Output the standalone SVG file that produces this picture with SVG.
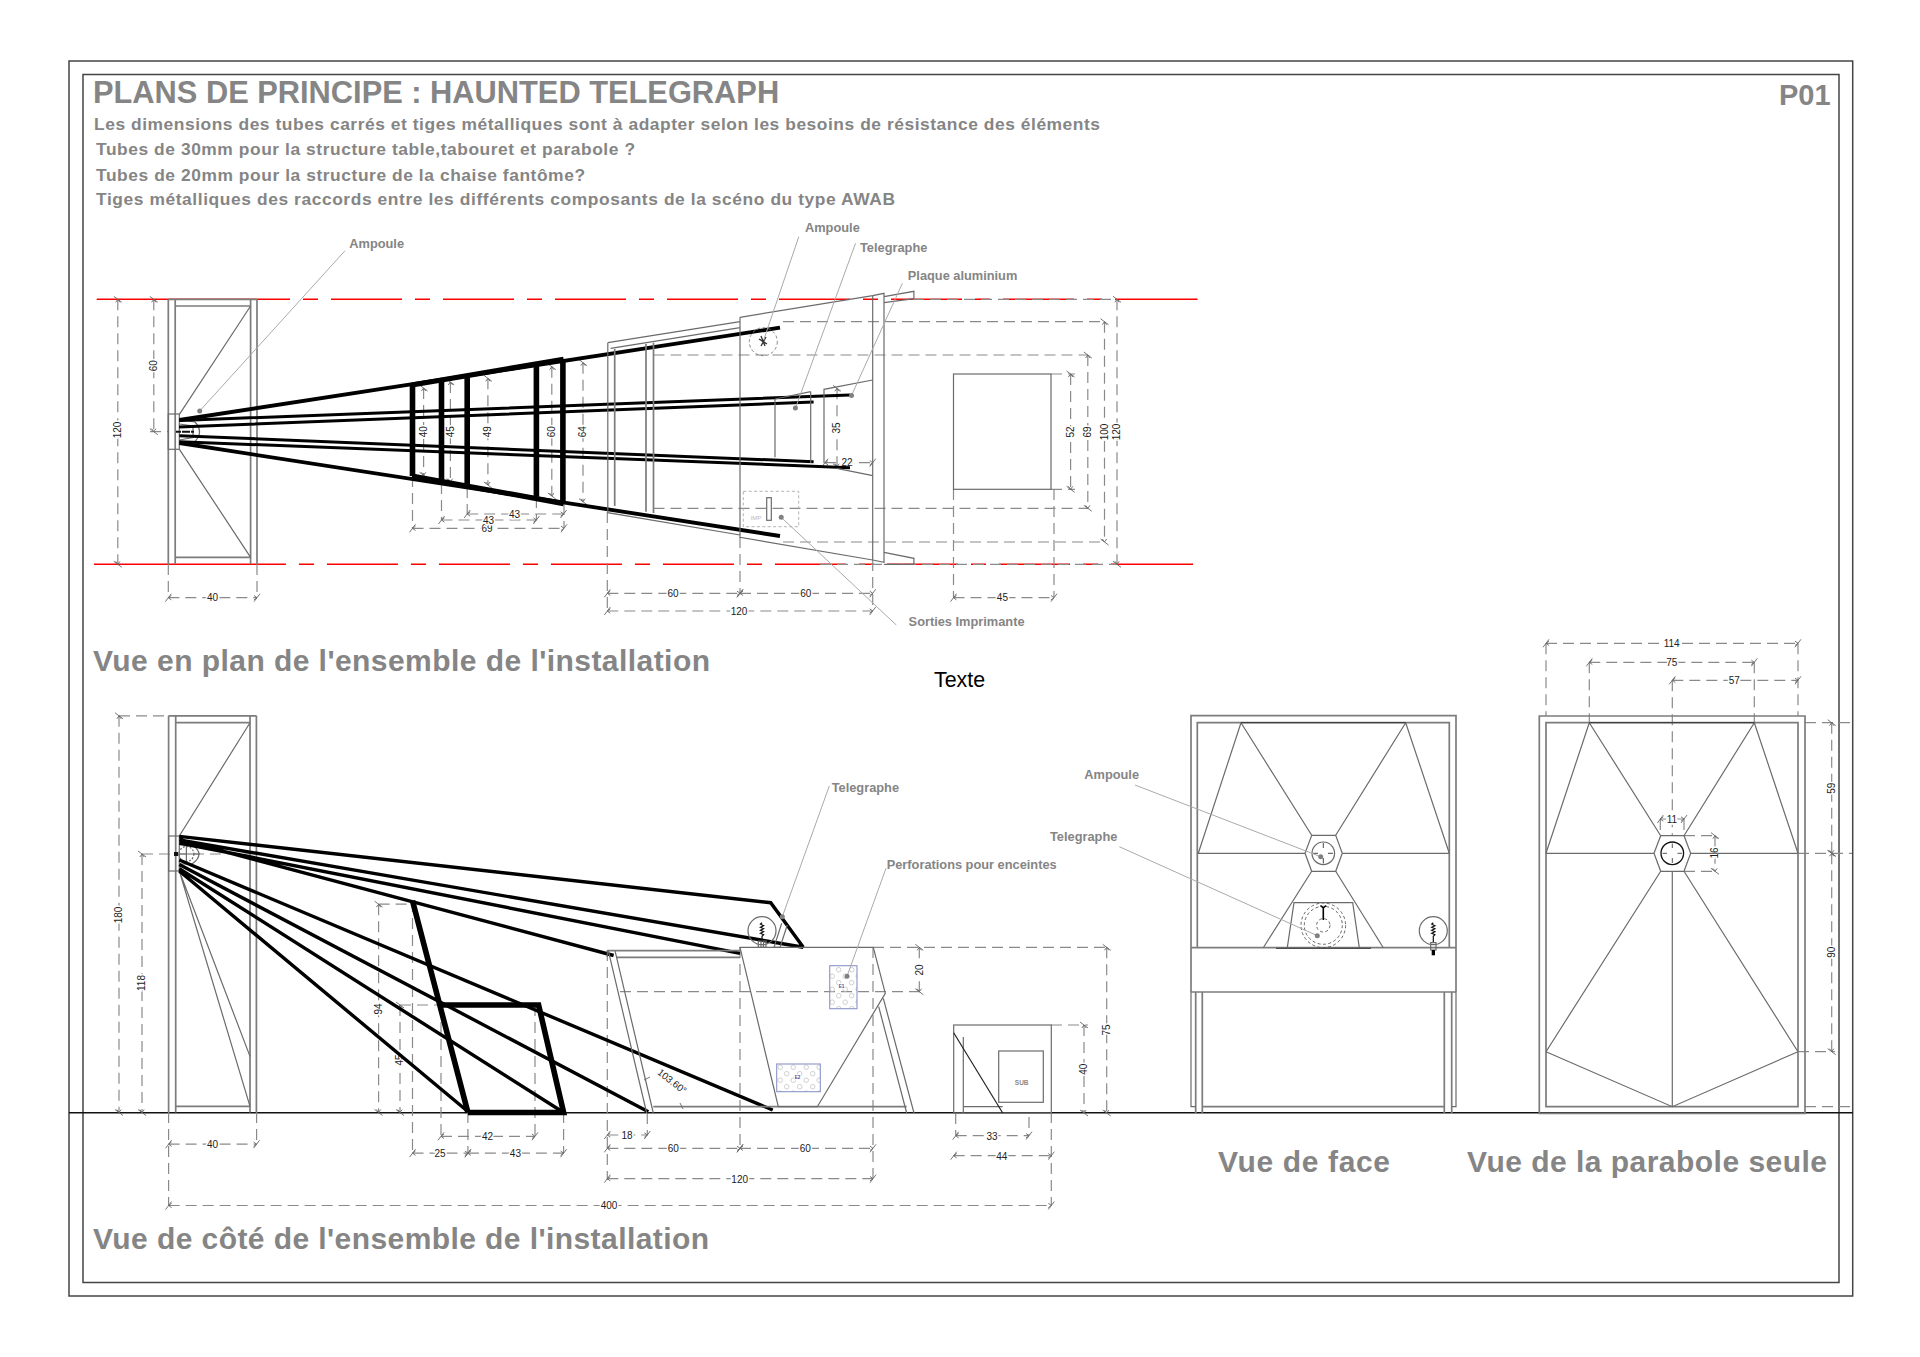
<svg xmlns="http://www.w3.org/2000/svg" width="1920" height="1357" viewBox="0 0 1920 1357">
<style>
text{font-family:"Liberation Sans",Arial,sans-serif}
.s,.s *{fill:none;stroke:#6b6b6b;stroke-width:1.2}
.s2{fill:none;stroke:#7c7c7c;stroke-width:1.7}
.k{fill:none;stroke:#000;stroke-width:3.4}
.k5{fill:none;stroke:#000;stroke-width:5.6}
.b{fill:none;stroke:#222;stroke-width:1.3}
.d{fill:none;stroke:#8a8a8a;stroke-width:1.2;stroke-dasharray:11 6}
.m{marker-start:url(#ts);marker-end:url(#te)}
.ld{fill:none;stroke:#aaa;stroke-width:1}
.dot{fill:#808080}
.h{font-weight:bold;fill:#858585}
.n{font-weight:bold;fill:#858585;font-size:12.8px}
.t{font-size:10px;fill:#222;text-anchor:middle;stroke:#fff;stroke-width:3;paint-order:stroke}
.r{fill:none;stroke:#f00;stroke-width:1.4}
.dz{fill:none;stroke:#555;stroke-width:.9;stroke-dasharray:3 2.4}
.p{fill:url(#perf);stroke:#8b96c8;stroke-width:1.1}
</style>
<defs>
<marker id="ts" markerUnits="userSpaceOnUse" markerWidth="14" markerHeight="14" viewBox="-7 -7 14 14" refX="0" refY="0" orient="auto"><path d="M-3 4L3-4M3-2.2L0 0L3 2.2" fill="none" stroke="#666" stroke-width=".9"/></marker>
<marker id="te" markerUnits="userSpaceOnUse" markerWidth="14" markerHeight="14" viewBox="-7 -7 14 14" refX="0" refY="0" orient="auto"><path d="M-3 4L3-4M-3-2.2L0 0L-3 2.2" fill="none" stroke="#666" stroke-width=".9"/></marker>
<pattern id="perf" patternUnits="userSpaceOnUse" width="13" height="13" x="777" y="1064"><circle cx="3.2" cy="3.2" r="2.3" fill="none" stroke="#c4c4c4" stroke-width=".8"/><circle cx="9.7" cy="9.7" r="2.3" fill="none" stroke="#c4c4c4" stroke-width=".8"/></pattern>
</defs>
<rect width="1920" height="1357" fill="#fff"/>

<g id="cadre" fill="none">
<rect x="69" y="61" width="1783.7" height="1235" stroke="#444" stroke-width="1.5"/>
<rect x="83" y="74.5" width="1756" height="1208" stroke="#444" stroke-width="1.5"/>
</g>

<g id="titres">
<text class="h" x="93" y="103" font-size="30.8">PLANS DE PRINCIPE : HAUNTED TELEGRAPH</text>
<text class="h" x="1779" y="105" font-size="29">P01</text>
<text class="h" x="94" y="130" font-size="17.4" textLength="1006">Les dimensions des tubes carrés et tiges métalliques sont à adapter selon les besoins de résistance des éléments</text>
<text class="h" x="96" y="155" font-size="17.4" textLength="539">Tubes de 30mm pour la structure table,tabouret et parabole ?</text>
<text class="h" x="96" y="180.500" font-size="17.4" textLength="489">Tubes de 20mm pour la structure de la chaise fantôme?</text>
<text class="h" x="96" y="205" font-size="17.4" textLength="799">Tiges métalliques des raccords entre les différents composants de la scéno du type AWAB</text>
<text class="h" x="93" y="671" font-size="30" textLength="617">Vue en plan de l'ensemble de l'installation</text>
<text x="934" y="687" font-size="21.400" fill="#000">Texte</text>
<text class="h" x="93" y="1249" font-size="30" textLength="616">Vue de côté de l'ensemble de l'installation</text>
<text class="h" x="1218" y="1172" font-size="30" textLength="172">Vue de face</text>
<text class="h" x="1467" y="1172" font-size="30" textLength="360">Vue de la parabole seule</text>
</g>

<g id="sol"><path d="M69 1112.7H1852.7" fill="none" stroke="#111" stroke-width="1.6"/></g>

<g id="axes-rouges">
<path class="r" d="M96.700 299.300H290M94 564.300H286M1117 299.300H1197.600M1117 564.300H1193"/>
<path class="r" stroke-dasharray="15 13 71 13" d="M303 299.300H1117"/>
<path class="r" stroke-dasharray="15 13 71 13" d="M299 564.300H1117"/>
</g>

<g id="cotes-plan">
<path class="d" d="M150 431.700H168M168.300 564V597M257 564V597M412.500 476V528M441.500 483V520M467.200 487V514M536.400 497V520M564 504V528M607.300 512V611M740 537V593M872.700 560V611M953.500 489V597M1054 489V597M1051 374H1075M1051 489.300H1075M653.500 355H1088M653.500 508.300H1088M783 321.700H1104.500M783 542H1104.500M913 299.300H1117M820 564.300H1117"/>
<path class="d m" d="M117.800 299.300V564.300"/><text class="t" transform="translate(121 430) rotate(-90)">120</text>
<path class="d m" d="M153.800 299.300V431.700"/><text class="t" transform="translate(157 365.700) rotate(-90)">60</text>
<path class="d m" d="M168.300 597.700H257"/><text class="t" x="212.500" y="601">40</text>
<path class="d m" d="M423.600 388V475.300"/><text class="t" transform="translate(427 431.700) rotate(-90)">40</text>
<path class="d m" d="M450.400 382V481.700"/><text class="t" transform="translate(453.800 431.700) rotate(-90)">45</text>
<path class="d m" d="M487.900 378.300V485"/><text class="t" transform="translate(491.300 431.700) rotate(-90)">49</text>
<path class="d m" d="M551.800 366.700V496"/><text class="t" transform="translate(555.200 431.700) rotate(-90)">60</text>
<path class="d m" d="M583 362.700V501.700"/><text class="t" transform="translate(586.400 431.700) rotate(-90)">64</text>
<path class="d m" d="M412.500 528.300H564"/><text class="t" x="487" y="532">69</text>
<path class="d m" d="M441.500 520H536.400"/><text class="t" x="488.600" y="524">43</text>
<path class="d m" d="M467.200 514H563.600"/><text class="t" x="514.600" y="518">43</text>
<path class="d m" d="M1070.600 374V489.300"/><text class="t" transform="translate(1074 432) rotate(-90)">52</text>
<path class="d m" d="M1087.800 355V508.300"/><text class="t" transform="translate(1091.200 432) rotate(-90)">69</text>
<path class="d m" d="M1104.500 321.700V542"/><text class="t" transform="translate(1108 432) rotate(-90)">100</text>
<path class="d m" d="M1117 299.300V564.300"/><text class="t" transform="translate(1120.400 432) rotate(-90)">120</text>
<path class="d m" d="M837 388.300V466.700"/><text class="t" transform="translate(840.400 428) rotate(-90)">35</text>
<path class="d m" d="M825 462.700H872.700"/><text class="t" x="847" y="466">22</text>
<path class="d m" d="M607.300 593.300H740"/><text class="t" x="673" y="597">60</text>
<path class="d m" d="M740 593.300H872.700"/><text class="t" x="805.700" y="597">60</text>
<path class="d m" d="M607.300 611H872.700"/><text class="t" x="739" y="615">120</text>
<path class="d m" d="M953.500 597.700H1054"/><text class="t" x="1002.400" y="601">45</text>
</g>

<g id="plan-parabole">
<g class="s">
<path class="s2" d="M168.300 299.300V564.300M175.200 299.300V564.300M250.600 299.300V564.300M257 299.300V564.300M175.200 306H250.600M175.200 557.300H250.600M168.300 299.300H257"/>
<path d="M250.600 306L179.400 414.300M250.600 557.300L179.400 449.300"/>
<rect x="168.300" y="414" width="11" height="35.300"/>
<path d="M179.300 420L195 422Q204 431.700 195 441.500L179.300 444M179.300 424L193 426V437.500L179.300 440"/>
</g>
<path d="M176 431.700H194" stroke="#111" stroke-width="2" stroke-dasharray="5 1 8 1" fill="none"/>
</g>

<g id="plan-chaise">
<path class="k" stroke-width="3.600" style="stroke-width:3.800" d="M179.400 420L780 327.700M179.400 443L780 536"/>
<path class="k" d="M412 385L563.600 359.300M412 476L563.600 503.600" style="stroke-width:5.200"/>
<path class="k" style="stroke-width:3" d="M179.300 420.500L850 395M179 427L813.600 402M179.300 435.700L813.600 461.700M179.300 441.700L850 467.700"/>
<path class="k" style="stroke-width:5.600" d="M412.500 385V476M441.500 381V483.300M467.200 377.700V486.700M536.400 365.700V496.700M562.900 359.300V504"/>
</g>

<g id="plan-table">
<g class="s">
<path d="M607.800 342.700L740 321.700M610.600 348.300L740 327.700M607.800 342.700V512.700L740 535M740 317.300L872.700 295.700L884 293.300V562.300L872.700 560L740 537.300V317.300"/>
<path class="s2" d="M614.700 349V506M646 344V511.700M653.500 342.700V513"/>
<path stroke="#222" d="M872.700 295.700V560"/>
<path d="M884 296.700L913.900 291.300V298.700L884 302.700M884 552.300L913.900 558.300V564.300H884"/>
<path stroke="#333" d="M775 399V457.300M810.700 391.700V463M775 399L810.700 391.700"/>
<path d="M824 463.300V389.300L872.700 380M836.700 468.300L872.700 475.700"/>
<rect x="953.500" y="374" width="97.500" height="115.300"/>
<rect x="766.700" y="497.700" width="4.600" height="22.600"/>
</g>
<path class="dz" d="M743.300 491.300H798.700V526.700H743.300Z" style="stroke:#aaa"/>
<circle class="dz" cx="763.300" cy="341.700" r="14" style="stroke:#777"/>
<path d="M761 336L765 346M759 339L767 344M766 337L761 346" stroke="#333" stroke-width="1.300" fill="none"/>
<text x="750.700" y="519.500" font-size="6" fill="#bbb">IMP</text>
</g>

<g id="cotes-cote">
<path class="d" d="M119 715.800H168M142 854H250M378.600 904.200H412M400 1005H441M168.600 1112V1205.500M256.600 1112V1144M412.500 901V1153M441 1005V1136M535 1005V1136M467.900 1112V1153M563.600 1112V1153M1051.300 1112V1205.500M607.300 950V1180M740 947V1148M873 947V1178M647.300 1113V1135M873 947.300H1106.700M620 991.700H923M1051 1025H1088M955.700 1113V1135M1029 1117V1135"/>
<path class="d m" d="M119 715.800V1112.500"/><text class="t" transform="translate(122.400 915) rotate(-90)">180</text>
<path class="d m" d="M142 854V1112.500"/><text class="t" transform="translate(145.400 983) rotate(-90)">118</text>
<path class="d m" d="M168.600 1144.200H256.600"/><text class="t" x="212.500" y="1148">40</text>
<path class="d m" d="M378.600 904.200V1112.500"/><text class="t" transform="translate(382 1009) rotate(-90)">94</text>
<path class="d m" d="M400 1005V1112.500"/><text class="t" transform="translate(403.400 1060) rotate(-90)">45</text>
<path class="d m" d="M441 1136.300H535"/><text class="t" x="487.500" y="1140">42</text>
<path class="d m" d="M412.500 1153.200H467.900"/><text class="t" x="440" y="1157">25</text>
<path class="d m" d="M467.900 1153.200H563.600"/><text class="t" x="515.400" y="1157">43</text>
<path class="d m" d="M168.600 1205.500H1051.300"/><text class="t" x="609" y="1209">400</text>
<path class="d m" d="M919.300 947.300V991.700"/><text class="t" transform="translate(922.700 970) rotate(-90)">20</text>
<path class="d m" d="M1106.700 947.300V1113"/><text class="t" transform="translate(1110 1030) rotate(-90)">75</text>
<path class="d m" d="M1084 1025V1113"/><text class="t" transform="translate(1087.400 1069.300) rotate(-90)">40</text>
<path class="d m" d="M955.700 1135.700H1029"/><text class="t" x="992" y="1139.500">33</text>
<path class="d m" d="M953.700 1155.700H1051.300"/><text class="t" x="1001.700" y="1159.500">44</text>
<path class="d m" d="M607.300 1135H647.300"/><text class="t" x="627" y="1138.800">18</text>
<path class="d m" d="M607.300 1148.300H740"/><text class="t" x="673.300" y="1152">60</text>
<path class="d m" d="M740 1148.300H873"/><text class="t" x="805.300" y="1152">60</text>
<path class="d m" d="M607.300 1178.700H873"/><text class="t" x="739.700" y="1182.500">120</text>
</g>

<g id="cote-parabole">
<g class="s">
<path class="s2" d="M168.600 715.800H256.400M168.600 715.800V1112.500M175.700 715.800V1112.500M250 715.800V1112.500M256.400 715.800V1112.500M175.700 722.700H250M175.700 1106.300H250"/>
<path d="M250 722.700L179.300 836M179.300 871L250 1106.300M179.300 871L250 1056.400"/>
<rect x="168.600" y="836" width="10.700" height="35"/>
<path d="M179.300 845H192Q206 854 192 864H179.300"/>
<circle cx="186.400" cy="854" r="7.500" stroke-dasharray="2 1.500"/>
<path stroke="#222" d="M176 854H200M186.400 846V862"/>
</g>
<rect x="174" y="852" width="4" height="4" fill="#111"/>
</g>

<g id="cote-chaise">
<path class="k" d="M179.300 836.400L770.700 902.700L803.300 947.300M179.300 840L803.300 947.300M179.300 843L740 953.300M179.300 839.500L613.600 955.500M179.300 860L772.700 1110M179.300 864.600L648.300 1111.700M179.300 868.700L563.600 1112.500M179.300 871L467.900 1111.500"/>
<path class="k5" d="M412.500 900.800L467.900 1112.500M441 1005H538.600L563.600 1112.500H467.900"/>
</g>

<g id="cote-table">
<g class="s">
<path class="s2" d="M607.300 950.700H740M616 957.300H740M653.300 1106.700H906.700"/>
<path d="M607.300 950.700V957M608.300 950.700L646.700 1113M615 950.700L653.300 1113"/>
<path d="M740 947.300H873.300L885.300 993.300L817.300 1106.700H778.300Z"/>
<path d="M878.700 1006.700L906.700 1113M883.300 998.300L914 1113"/>
<circle cx="762" cy="930.700" r="14" stroke="#222"/>
<path d="M781.700 923.300L774 947.300H780L787.300 925"/>
<path stroke="#444" d="M758.300 941H766V947.300H758.300ZM761 941V947.300M763.500 941V947.300"/>
</g>
<path d="M762 922.700l-1.600 1.500 3.200 1.500-3.200 1.500 3.200 1.500-3.200 1.500 3.200 1.500-3.200 1.500 3.200 1.500-1.600 1.500V941" fill="none" stroke="#111" stroke-width="1.200"/>
<rect class="p" x="829.700" y="965.700" width="27.300" height="43"/>
<rect class="p" x="776.700" y="1064" width="43.600" height="27.700"/>
<text x="841.500" y="987.500" font-size="4.500" fill="#3a4a9a" font-weight="bold" text-anchor="middle" stroke="#fff" stroke-width="1.500" paint-order="stroke">E1</text>
<text x="797.500" y="1079" font-size="4.500" fill="#3a4a9a" font-weight="bold" text-anchor="middle" stroke="#fff" stroke-width="1.500" paint-order="stroke">E2</text>
<path d="M644 1080l6-3M680 1103l3 6" fill="none" stroke="#666" stroke-width=".9"/>
<text x="0" y="0" font-size="9.800" fill="#222" text-anchor="middle" transform="translate(670 1084) rotate(38)">103.60°</text>
</g>

<g id="cote-caisson">
<g class="s">
<rect x="953.700" y="1025" width="97.600" height="88"/>
<path d="M963.300 1037V1113M963.300 1106.700H1002.700"/>
<rect x="998.700" y="1051" width="44.600" height="51.300"/>
</g>
<path d="M953.700 1032.700L1002.700 1113" stroke="#222" stroke-width="1.200" fill="none"/>
<text x="1021.700" y="1084.500" font-size="6.500" fill="#888" text-anchor="middle" font-weight="bold">SUB</text>
</g>

<g id="vue-face">
<g class="s">
<path class="s2" d="M1191 947.700V715.700H1456V947.700M1197.300 947.700V722.700H1449.300V947.700M1191 947.700H1456M1191 992H1456M1191 947.700V992M1456 947.700V992"/>
<path class="s2" d="M1195.700 992V1113M1202.300 992V1113M1444.300 992V1113M1451.700 992V1113M1202.300 1106.700H1444.300"/>
<path d="M1191 992V1106.700H1195.700M1456 992V1106.700H1451.700"/>
<path d="M1241 722.700L1311.700 835.300M1405.700 722.700L1335.700 835.300M1241 722.700L1198.300 853.300M1405.700 722.700L1449.300 853.300M1197.300 853.300H1305M1342.300 853.300H1449.300M1311.700 871.300L1263.300 947.700M1335.700 871.300L1383.300 947.700"/>
<path d="M1311.700 835.300H1335.700L1342.300 853.300L1335.700 871.300H1311.700L1305 853.300Z"/>
<path d="M1287.300 947.700L1294 902.700H1352.700L1359.300 947.700"/>
<circle cx="1323.300" cy="853.300" r="11.300" stroke="#333"/>
<circle cx="1433.300" cy="930.700" r="14" stroke="#333"/>
<path stroke="#333" d="M1430.700 942.700H1436V950H1430.700Z"/>
</g>
<path d="M1241 722.700H1405.700M1276 948.300H1371" fill="none" stroke="#333" stroke-width="1"/>
<path d="M1323.300 843V848M1323.300 858V863.500M1313 853.300H1318M1328 853.300H1333" fill="none" stroke="#333" stroke-width=".9"/>
<circle class="dz" cx="1323.300" cy="925.300" r="22.300"/>
<circle class="dz" cx="1323.300" cy="925.300" r="19"/>
<circle class="dz" cx="1323.300" cy="925.300" r="6.700"/>
<path d="M1323.300 920V908M1320.500 905.500L1323.300 908L1326 905.500" fill="none" stroke="#000" stroke-width="1.600"/>
<path d="M1433.300 922.700l-1.600 1.500 3.200 1.500-3.200 1.500 3.200 1.500-3.200 1.500 3.200 1.500-3.200 1.500 3.200 1.500-1.600 1.500V942" fill="none" stroke="#111" stroke-width="1.200"/>
<rect x="1431.700" y="950" width="3.300" height="5.300" fill="#000"/>
</g>

<g id="cotes-parabole-seule">
<path class="d" d="M1546 643.300V716M1798 643.300V716M1589.300 662.300V722M1754.300 662.300V722M1672.300 680.300V835M1660.300 819V836M1684 819V836M1684 835.700H1718M1684 871.300H1718M1805 722.700H1852M1798 853.300H1852M1798 1051.700H1835M1805 1106.700H1852"/>
<path class="d m" d="M1546 643.300H1798"/><text class="t" x="1671.700" y="647">114</text>
<path class="d m" d="M1589.300 662.300H1754.300"/><text class="t" x="1671.700" y="666">75</text>
<path class="d m" d="M1672.300 680.300H1798"/><text class="t" x="1734.300" y="684">57</text>
<path class="d m" d="M1660.300 819H1684"/><text class="t" x="1672" y="823">11</text>
<path class="d m" d="M1715 835.700V871.300"/><text class="t" transform="translate(1718.400 853) rotate(-90)">16</text>
<path class="d m" d="M1831.700 722.700V853.300"/><text class="t" transform="translate(1835 788.300) rotate(-90)">59</text>
<path class="d m" d="M1831.700 853.300V1051.700"/><text class="t" transform="translate(1835 952.300) rotate(-90)">90</text>
</g>

<g id="parabole-seule">
<g class="s">
<path class="s2" d="M1539.300 716H1805V1113.300H1539.300ZM1546 722.700H1798V1106.700H1546Z"/>
<path d="M1589.300 722.700L1660.700 835.700M1754.300 722.700L1684 835.700M1589.300 722.700L1546 853.300M1754.300 722.700L1798 853.300M1546 853.300H1654M1690.700 853.300H1798M1660.700 871.300L1546 1051.700M1684 871.300L1798 1051.700M1546 1051.700L1672.300 1106.700L1798 1051.700M1672.300 871.300V1106.700"/>
<path d="M1660.700 835.700H1684L1690.700 853.300L1684 871.300H1660.700L1654 853.300Z"/>
</g>
<path d="M1589.300 722.700H1754.300" fill="none" stroke="#333" stroke-width="1"/>
<circle cx="1672.300" cy="853.300" r="11.300" fill="none" stroke="#111" stroke-width="1.300"/>
<path d="M1672.300 843.500V848M1672.300 858V863M1662.500 853.300H1667M1677.500 853.300H1682" fill="none" stroke="#444" stroke-width=".9"/>
</g>

<g id="connecteurs">
<path class="ld" d="M345 250.700L199.700 411M798.800 236.700L763.700 340M855.500 243.300L795.500 408M902.400 283.300L851.400 395.700M781.200 517.300L896.300 625M829.300 786L782.300 916.700M886 868.300L847 976.300M1135 785L1320.700 856.700M1119.300 846.700L1317.300 935.700"/>
<circle class="dot" cx="199.700" cy="411" r="2.500"/>
<circle class="dot" cx="851.500" cy="395.500" r="2.500"/>
<circle class="dot" cx="795.400" cy="408" r="2.500"/>
<circle class="dot" cx="781.200" cy="517.300" r="2.500"/>
<circle class="dot" cx="782.300" cy="916.700" r="2.500"/>
<circle class="dot" cx="847" cy="976.300" r="2.500"/>
<circle class="dot" cx="1320.700" cy="856.700" r="2.500"/>
<circle class="dot" cx="1317.300" cy="935.700" r="2.500"/>
</g>

<g id="etiquettes">
<text class="n" x="349.300" y="248.300">Ampoule</text>
<text class="n" x="805" y="232.300">Ampoule</text>
<text class="n" x="860" y="252">Telegraphe</text>
<text class="n" x="907.800" y="280">Plaque aluminium</text>
<text class="n" x="908.600" y="625.700">Sorties Imprimante</text>
<text class="n" x="831.700" y="792">Telegraphe</text>
<text class="n" x="886.700" y="869.300">Perforations pour enceintes</text>
<text class="n" x="1084.300" y="778.700">Ampoule</text>
<text class="n" x="1050" y="841.300">Telegraphe</text>
</g>
</svg>
